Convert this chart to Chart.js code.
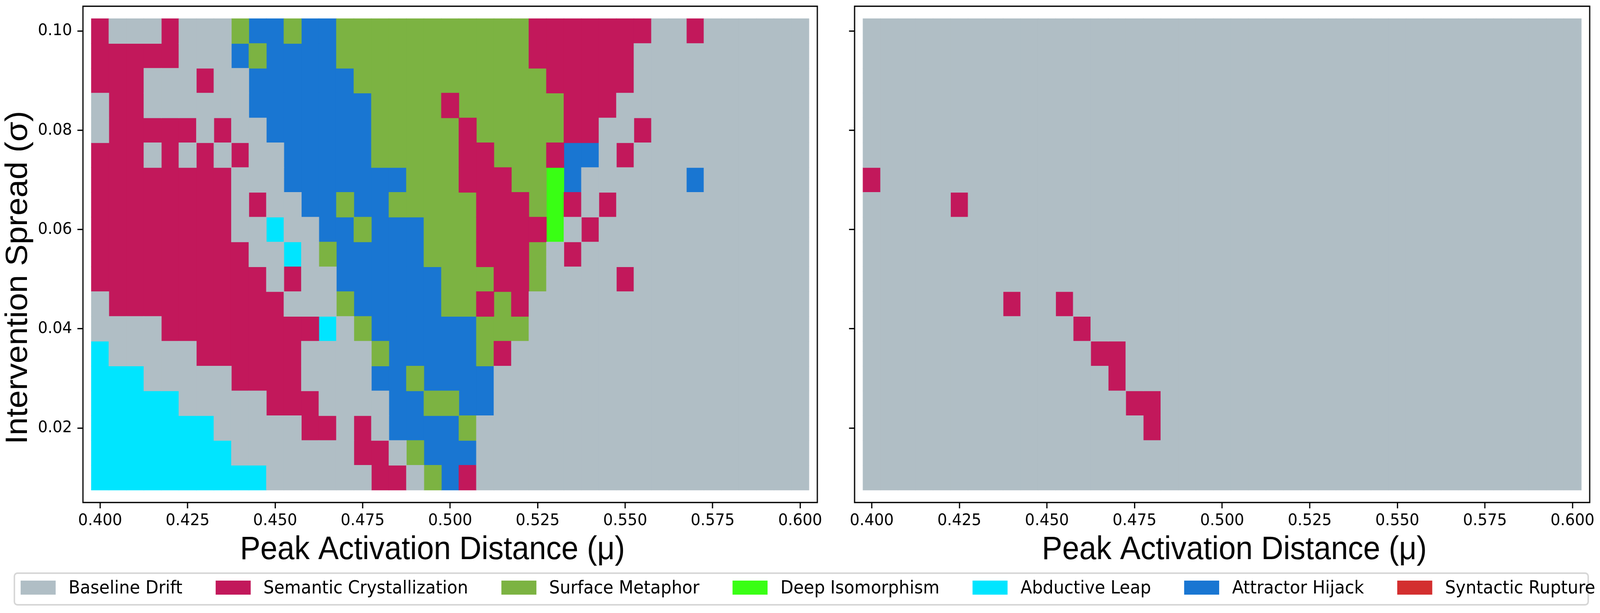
<!DOCTYPE html>
<html>
<head>
<meta charset="utf-8">
<script src="https://cdn.jsdelivr.net/npm/chart.js@4.4.1/dist/chart.umd.min.js"></script>
<style>
  html, body { margin: 0; padding: 0; background: #fff; overflow: hidden; }
  #wrap { position: relative; width: 4340px; height: 1570px; overflow: hidden; transform-origin: 0 0; }
  #leftCanvas { position: absolute; left: 0; top: 0; }
  #rightCanvas { position: absolute; left: 2260px; top: 0; }
  #legend {
    position: absolute; left: 37px; top: 1466px; width: 4273px; height: 85px;
    box-sizing: border-box; border: 4px solid #d6d6d6; border-radius: 10px;
    display: flex; align-items: center; padding: 0 0 7px 16.7px;
    font-family: 'DejaVu Sans', sans-serif;
  }
  .item { display: flex; align-items: center; margin-right: 91.6px; }
  .swatch { width: 95px; height: 36px; margin-left: -1.7px; margin-right: 34.9px; }
  .label { font-size: 45.8px; color: #000; white-space: nowrap; line-height: 1; }
</style>
</head>
<body>
<div id="wrap">
  <canvas id="leftCanvas" width="2260" height="1466"></canvas>
  <canvas id="rightCanvas" width="2080" height="1466"></canvas>
  <div id="legend"></div>
</div>
<script>
// regimes, in legend order
const categories = ['Baseline Drift', 'Semantic Crystallization', 'Surface Metaphor', 'Deep Isomorphism', 'Abductive Leap', 'Attractor Hijack', 'Syntactic Rupture'];
const categoryCodes = ['B', 'S', 'M', 'D', 'A', 'H', 'R'];
const categoryColors = ['#B0BEC5', '#C2185B', '#7CB342', '#39FF14', '#00E5FF', '#1976D2', '#D32F2F'];

// grid columns (mu) and rows (sigma, top row first)
const muValues = [
  0.400, 0.405, 0.410, 0.415, 0.420, 0.425, 0.430, 0.435, 0.440, 0.445,
  0.450, 0.455, 0.460, 0.465, 0.470, 0.475, 0.480, 0.485, 0.490, 0.495,
  0.500, 0.505, 0.510, 0.515, 0.520, 0.525, 0.530, 0.535, 0.540, 0.545,
  0.550, 0.555, 0.560, 0.565, 0.570, 0.575, 0.580, 0.585, 0.590, 0.595,
  0.600
];
const sigmaValues = [0.100, 0.095, 0.090, 0.085, 0.080, 0.075, 0.070, 0.065, 0.060, 0.055,
  0.050, 0.045, 0.040, 0.035, 0.030, 0.025, 0.020, 0.015, 0.010];

const muTicks = [0.400, 0.425, 0.450, 0.475, 0.500, 0.525, 0.550, 0.575, 0.600];
const sigmaTicks = [0.02, 0.04, 0.06, 0.08, 0.10];

// one string per sigma row, one letter per mu column (groups of 10)
const leftGrid = [
  'SBBBSBBBMH HMHHMMMMMM MMMMMSSSSS SSBBSBBBBB B',
  'SSSSSBBBHM HHHHMMMMMM MMMMMSSSSS SBBBBBBBBB B',
  'SSSBBBSBBH HHHHHMMMMM MMMMMMSSSS SBBBBBBBBB B',
  'BSSBBBBBBH HHHHHHMMMM SMMMMMMSSS BBBBBBBBBB B',
  'BSSSSSBSBB HHHHHHMMMM MSMMMMMSSB BSBBBBBBBB B',
  'SSSBSBSBSB BHHHHHMMMM MSSMMMSHHB SBBBBBBBBB B',
  'SSSSSSSSBB BHHHHHHHMM MSSSMMDHBB BBBBHBBBBB B',
  'SSSSSSSSBS BBHHMHHMMM MMSSSMDSBS BBBBBBBBBB B',
  'SSSSSSSSBB ABBHHMHHHM MMSSSSDBSB BBBBBBBBBB B',
  'SSSSSSSSSB BABMHHHHHM MMSSSMBSBB BBBBBBBBBB B',
  'SSSSSSSSSS BSBBHHHHHH MMMSSMBBBB SBBBBBBBBB B',
  'BSSSSSSSSS SBBBMHHHHH MMSMSBBBBB BBBBBBBBBB B',
  'BBBBSSSSSS SSSABMHHHH HHMMMBBBBB BBBBBBBBBB B',
  'ABBBBBSSSS SSBBBBMHHH HHMSBBBBBB BBBBBBBBBB B',
  'AAABBBBBSS SSBBBBHHMH HHHBBBBBBB BBBBBBBBBB B',
  'AAAAABBBBB SSSBBBBHHM MHHBBBBBBB BBBBBBBBBB B',
  'AAAAAAABBB BBSSBSBHHH HMBBBBBBBB BBBBBBBBBB B',
  'AAAAAAAABB BBBBBSSBMH HHBBBBBBBB BBBBBBBBBB B',
  'AAAAAAAAAA BBBBBBSSBM HSBBBBBBBB BBBBBBBBBB B'
];

const rightGrid = [
  'BBBBBBBBBB BBBBBBBBBB BBBBBBBBBB BBBBBBBBBB B',
  'BBBBBBBBBB BBBBBBBBBB BBBBBBBBBB BBBBBBBBBB B',
  'BBBBBBBBBB BBBBBBBBBB BBBBBBBBBB BBBBBBBBBB B',
  'BBBBBBBBBB BBBBBBBBBB BBBBBBBBBB BBBBBBBBBB B',
  'BBBBBBBBBB BBBBBBBBBB BBBBBBBBBB BBBBBBBBBB B',
  'BBBBBBBBBB BBBBBBBBBB BBBBBBBBBB BBBBBBBBBB B',
  'SBBBBBBBBB BBBBBBBBBB BBBBBBBBBB BBBBBBBBBB B',
  'BBBBBSBBBB BBBBBBBBBB BBBBBBBBBB BBBBBBBBBB B',
  'BBBBBBBBBB BBBBBBBBBB BBBBBBBBBB BBBBBBBBBB B',
  'BBBBBBBBBB BBBBBBBBBB BBBBBBBBBB BBBBBBBBBB B',
  'BBBBBBBBBB BBBBBBBBBB BBBBBBBBBB BBBBBBBBBB B',
  'BBBBBBBBSB BSBBBBBBBB BBBBBBBBBB BBBBBBBBBB B',
  'BBBBBBBBBB BBSBBBBBBB BBBBBBBBBB BBBBBBBBBB B',
  'BBBBBBBBBB BBBSSBBBBB BBBBBBBBBB BBBBBBBBBB B',
  'BBBBBBBBBB BBBBSBBBBB BBBBBBBBBB BBBBBBBBBB B',
  'BBBBBBBBBB BBBBBSSBBB BBBBBBBBBB BBBBBBBBBB B',
  'BBBBBBBBBB BBBBBBSBBB BBBBBBBBBB BBBBBBBBBB B',
  'BBBBBBBBBB BBBBBBBBBB BBBBBBBBBB BBBBBBBBBB B',
  'BBBBBBBBBB BBBBBBBBBB BBBBBBBBBB BBBBBBBBBB B'
];

const xTitle = 'Peak Activation Distance (μ)';
const yTitle = 'Intervention Spread (σ)';

// the window may be narrower than the 4340px design; squeeze to fit
const sx = Math.min(1, window.innerWidth / 4340);
document.getElementById('wrap').style.transform = 'scale(' + sx + ', 1)';

const tickFont = { family: "'DejaVu Sans', sans-serif", size: 41.7, lineHeight: 1.2 };
Chart.defaults.color = '#000';

function buildDatasets(grid) {
  const half = (sigmaValues[0] - sigmaValues[1]) / 2;
  return categories.map(function (name, k) {
    const points = [];
    grid.forEach(function (row, r) {
      const cells = row.replace(/ /g, '');
      for (let c = 0; c < cells.length; c++) {
        if (cells[c] === categoryCodes[k]) {
          points.push({ x: muValues[c], y: [sigmaValues[r] - half, sigmaValues[r] + half] });
        }
      }
    });
    return {
      label: name,
      data: points,
      backgroundColor: categoryColors[k],
      borderWidth: 0,
      grouped: false,
      barPercentage: 1,
      categoryPercentage: 1,
      inflateAmount: 0.6
    };
  });
}

const framePlugin = {
  id: 'frame',
  afterDraw(chart) {
    const a = chart.chartArea;
    const ctx = chart.ctx;
    ctx.save();
    ctx.strokeStyle = '#000';
    ctx.lineWidth = 3.3;
    ctx.strokeRect(a.left, a.top, a.right - a.left, a.bottom - a.top);
    ctx.restore();
  }
};

// axis titles placed like the original figure (not centred on the plot area)
const axisTitlePlugin = {
  id: 'axisTitles',
  afterDraw(chart, args, opts) {
    const ctx = chart.ctx;
    ctx.save();
    ctx.fillStyle = '#000';
    ctx.font = "83px 'Liberation Sans', Arial, sans-serif";
    ctx.textAlign = 'center';
    ctx.textBaseline = 'alphabetic';
    if (opts.x) ctx.fillText(opts.x.text, opts.x.center, opts.x.baseline);
    if (opts.y) {
      ctx.translate(opts.y.baseline, opts.y.center);
      ctx.rotate(-Math.PI / 2);
      ctx.fillText(opts.y.text, 0, 0);
    }
    ctx.restore();
  }
};

const tickGrid = {
  display: true,
  drawOnChartArea: false,
  drawTicks: true,
  tickLength: 15,
  tickWidth: 3.3,
  lineWidth: 3.3,
  tickColor: '#000',
  color: '#000',
  offset: false
};

function makeChart(canvasId, grid, yAxisWidth, rightPad, showYLabels, titles) {
  return new Chart(document.getElementById(canvasId), {
    type: 'bar',
    data: { datasets: buildDatasets(grid) },
    plugins: [framePlugin, axisTitlePlugin],
    options: {
      responsive: false,
      devicePixelRatio: 1,
      animation: false,
      layout: { padding: { top: 16, right: rightPad, bottom: 0, left: 0 } },
      plugins: {
        legend: { display: false },
        tooltip: { enabled: false },
        axisTitles: titles
      },
      scales: {
        x: {
          type: 'linear',
          offset: false,
          min: 0.3951,
          max: 0.6049,
          border: { display: false },
          grid: tickGrid,
          afterBuildTicks: function (axis) {
            axis.ticks = muTicks.map(function (v) { return { value: v }; });
          },
          afterFit: function (axis) {
            axis.height = 179;
            axis.paddingLeft = 0;
            axis.paddingRight = 0;
          },
          ticks: {
            autoSkip: false,
            maxRotation: 0,
            padding: 7,
            font: tickFont,
            callback: function (v) { return Number(v).toFixed(3); }
          }
        },
        y: {
          type: 'linear',
          min: 0.005,
          max: 0.105,
          border: { display: false },
          grid: tickGrid,
          afterBuildTicks: function (axis) {
            axis.ticks = sigmaTicks.map(function (v) { return { value: v }; });
          },
          afterFit: function (axis) {
            axis.width = yAxisWidth;
            axis.paddingTop = 0;
            axis.paddingBottom = 0;
          },
          ticks: {
            display: showYLabels,
            padding: 14.5,
            font: tickFont,
            callback: function (v) { return Number(v).toFixed(2); }
          }
        }
      }
    }
  });
}

makeChart('leftCanvas', leftGrid, 225, 43, true, {
  x: { text: xTitle, center: 1173, baseline: 1432 },
  y: { text: yTitle, center: 711, baseline: 73 }
});
makeChart('rightCanvas', rightGrid, 58, 28, false, {
  x: { text: xTitle, center: 1088, baseline: 1432 }
});

// shared legend under both panels
const legendBox = document.getElementById('legend');
categories.forEach(function (name, k) {
  const item = document.createElement('div');
  item.className = 'item';
  const sw = document.createElement('span');
  sw.className = 'swatch';
  sw.style.background = categoryColors[k];
  const txt = document.createElement('span');
  txt.className = 'label';
  txt.textContent = name;
  item.appendChild(sw);
  item.appendChild(txt);
  legendBox.appendChild(item);
});
</script>
</body>
</html>
